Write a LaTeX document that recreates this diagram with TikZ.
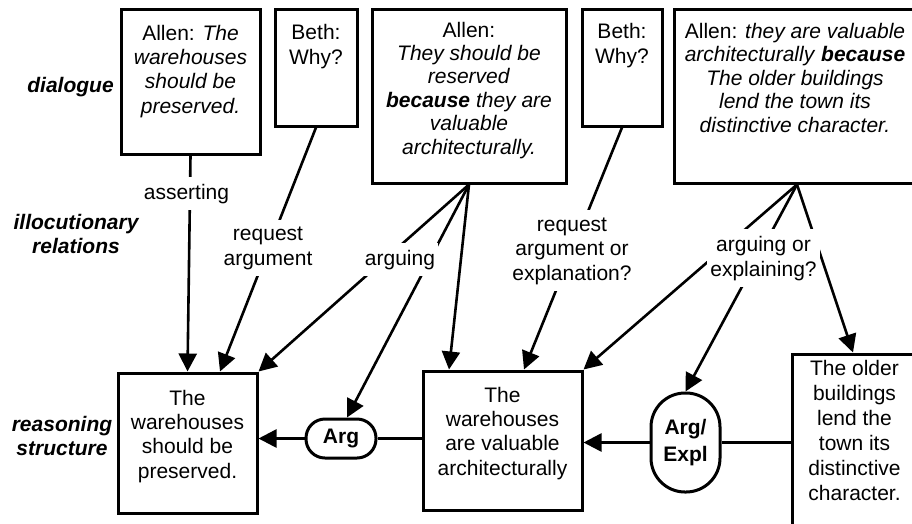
\documentclass[tikz,border=0pt]{standalone}
\usepackage{fontspec}
\setmainfont{Liberation Sans}
\usetikzlibrary{arrows.meta}
\begin{document}
\begin{tikzpicture}[x=1pt,y=-1pt,
  box/.style={draw, line width=3pt, inner sep=0pt, rectangle},
  txt/.style={font=\fontsize{21}{24.3}\selectfont, align=center, inner sep=0pt, anchor=base},
  tighttxt/.style={txt, font=\fontsize{21}{23.4}\selectfont},
  lbl/.style={font=\fontsize{21}{24.5}\selectfont, align=center, fill=white, inner xsep=3pt, inner ysep=7pt, anchor=base},
  side/.style={font=\fontsize{21}{24}\selectfont\bfseries\itshape, align=center, anchor=base, inner sep=0pt},
  conn/.style={line width=2.6pt},
  arr/.style={conn, -{Triangle[length=18pt,width=18pt]}},
  pill/.style={draw, fill=white, line width=3pt, font=\fontsize{21}{27}\selectfont\bfseries, align=center, inner sep=0pt}]
\useasboundingbox (0,0) rectangle (912,523);
\fill[white] (0,0) rectangle (912,523);
\clip (0,0) rectangle (912,523);

% dialogue boxes
\node[box, minimum width=139pt, minimum height=145pt] (A) at (190.5,81.5) {};
\node[box, minimum width=82pt, minimum height=117pt] (B) at (316,67.5) {};
\node[box, minimum width=194pt, minimum height=174pt] (C) at (469,96) {};
\node[box, minimum width=80pt, minimum height=117pt] (D) at (622,67.5) {};
\node[box, minimum width=242pt, minimum height=174pt] (E) at (795,96) {};

% reasoning boxes
\node[box, minimum width=139pt, minimum height=140pt] (F) at (187.5,443) {};
\node[box, minimum width=159pt, minimum height=139pt] (G) at (502.5,440.5) {};
\node[box, minimum width=125pt, minimum height=186pt] (H) at (854.5,447) {};
\node[pill, minimum width=70pt, minimum height=39pt, rounded corners=19pt] (Arg) at (341,438.5) {Arg};
\node[pill, minimum width=69pt, minimum height=99pt, rounded corners=34pt] (AE) at (685.5,442.5) {Arg/\\Expl};

% texts in boxes (anchor = baseline of the last line)
\node[txt] (At) at (190.5,113) {Allen: \textit{The}\\\textit{warehouses}\\\textit{should be}\\\textit{preserved.}};
\node[txt] (Bt) at (316,64) {Beth:\\Why?};
\node[tighttxt] (Ct) at (469,154) {Allen:\\\textit{They should be}\\\textit{reserved}\\\textbf{\textit{because}} \textit{they are}\\\textit{valuable}\\\textit{architecturally.}};
\node[txt] (Dt) at (622,63) {Beth:\\Why?};
\node[tighttxt] (Et) at (795,132) {Allen: \textit{they are valuable}\\\textit{architecturally} \textbf{\textit{because}}\\\textit{The older buildings}\\\textit{lend the town its}\\\textit{distinctive character.}};
\node[txt] (Ft) at (187.5,478) {The\\warehouses\\should be\\preserved.};
\node[txt] (Gt) at (502.5,475) {The\\warehouses\\are valuable\\architecturally};
\node[txt, font=\fontsize{21}{25}\selectfont] (Ht) at (854.5,500) {The older\\buildings\\lend the\\town its\\distinctive\\character.};

% side labels
\node[side] (s1) at (70.5,92) {dialogue};
\node[side] (s2) at (76,253) {illocutionary\\relations};
\node[side] (s3) at (62,455) {reasoning\\structure};

% connectors
\draw[arr] (A.south) -- (F.north);
\draw[arr] (B.south) -- ([xshift=32.5pt]F.north);
\draw[arr] (C.south) -- (F.north east);
\draw[arr] (C.south) -- ([xshift=6pt]Arg.north);
\draw[arr] (C.south) -- ([xshift=27.5pt]G.north west);
\draw[arr] (D.south) -- ([xshift=102.5pt]G.north west);
\draw[arr] ([xshift=2pt]E.south) -- (G.north east);
\draw[arr] ([xshift=2pt]E.south) -- (AE.north);
\draw[arr] ([xshift=2pt]E.south) -- ([xshift=-1.5pt]H.north);
\draw[conn] (G.west |- Arg.east) -- (Arg.east);
\draw[arr] (Arg.west) -- (F.east |- Arg.west);
\draw[conn] (H.west |- AE.east) -- (AE.east);
\draw[arr] (AE.west) -- (G.east |- AE.west);

% connector labels (anchor = baseline of the last line)
\node[lbl] (l1) at (186.5,199) {asserting};
\node[lbl] (l2) at (268,265) {request\\argument};
\node[lbl] (l3) at (400,265) {arguing};
\node[lbl] (l4) at (572,280) {request\\argument or\\explanation?};
\node[lbl] (l5) at (763.5,276) {arguing or\\explaining?};
\end{tikzpicture}
\end{document}
